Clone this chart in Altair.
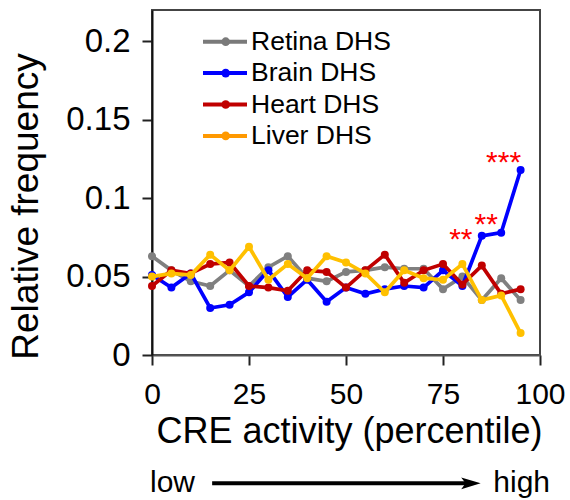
import altair as alt
import pandas as pd

# Percentile bins (bin start, step 5)
pct = list(range(0, 100, 5))

series_names = ["Retina DHS", "Brain DHS", "Heart DHS", "Liver DHS"]
line_colors = ["#808080", "#0000FF", "#C00000", "#FFC000"]
legend_colors = ["#7A7A7A", "#0000FF", "#C00000", "#FF9900"]

retina = [0.063, 0.054, 0.047, 0.044, 0.054, 0.044, 0.056, 0.063, 0.049, 0.047,
          0.053, 0.054, 0.056, 0.055, 0.055, 0.042, 0.050, 0.035, 0.049, 0.035]
brain = [0.051, 0.043, 0.052, 0.030, 0.032, 0.040, 0.054, 0.037, 0.048, 0.034,
         0.043, 0.039, 0.042, 0.044, 0.043, 0.054, 0.044, 0.076, 0.078, 0.118]
heart = [0.044, 0.054, 0.052, 0.058, 0.059, 0.044, 0.043, 0.041, 0.054, 0.053,
         0.043, 0.054, 0.064, 0.046, 0.054, 0.058, 0.045, 0.057, 0.039, 0.042]
liver = [0.050, 0.052, 0.051, 0.064, 0.054, 0.069, 0.048, 0.058, 0.049, 0.063,
         0.059, 0.052, 0.040, 0.054, 0.049, 0.048, 0.058, 0.035, 0.038, 0.014]

# Significance marks for the top Brain DHS bins
star_labels = ["**", "**", "***"]
star_pct = [85, 90, 95]
star_dx = [-21, -15, -17]
star_dy = [13, 1, 2]

x_ticks = [0, 25, 50, 75, 100]
y_ticks = [0, 0.05, 0.1, 0.15, 0.2]

W, H = 388, 345
FONT = "Liberation Sans"

x_scale = alt.Scale(domain=[0, 100], nice=False, zero=False)
y_scale = alt.Scale(domain=[0, 0.22], nice=False)

x_axis = alt.Axis(values=x_ticks, format="d", title="CRE activity (percentile)",
                  titleX=197, titleY=87, titleAlign="center",
                  titleBaseline="alphabetic", labelPadding=14, labelFlush=False,
                  labelFontSize=30, titleFontSize=36, domainColor="#555555")
y_axis = alt.Axis(values=y_ticks, format="~g", title="Relative frequency",
                  titleX=-115, titleY=196, titleAngle=270, titleAlign="center",
                  titleBaseline="alphabetic", labelPadding=12, labelFlush=False,
                  labelFontSize=33, titleFontSize=37, domainColor="#111111")

series_values = [retina, brain, heart, liver]
long = pd.DataFrame({
    "pct": pct * len(series_names),
    "freq": [v for vals in series_values for v in vals],
    "series": [n for n in series_names for _ in pct],
})

color = alt.Color("series:N", scale=alt.Scale(domain=series_names, range=line_colors),
                  legend=None)

layers = []
for name in series_names:
    sub = alt.Chart(long).transform_filter(alt.datum.series == name)
    enc = dict(x=alt.X("pct:Q", scale=x_scale, axis=x_axis),
               y=alt.Y("freq:Q", scale=y_scale, axis=y_axis),
               color=color)
    layers.append(sub.mark_line(strokeWidth=3.7).encode(**enc))
    layers.append(sub.mark_circle(size=64, opacity=1).encode(**enc))

# Asterisks anchored to the Brain DHS points they annotate
for lab, p, dx, dy in zip(star_labels, star_pct, star_dx, star_dy):
    sdf = pd.DataFrame({"pct": [p], "freq": [brain[pct.index(p)]], "label": [lab]})
    layers.append(
        alt.Chart(sdf).mark_text(color="#FF0000", fontSize=30, font=FONT,
                                 align="center", baseline="alphabetic", dx=dx, dy=dy)
        .encode(x=alt.X("pct:Q", scale=x_scale), y=alt.Y("freq:Q", scale=y_scale),
                text="label:N")
    )

# Manual legend (line + dot + label)
leg_y0, leg_gap = 31.7, 31.4
for k, (name, col) in enumerate(zip(series_names, legend_colors)):
    ldf = pd.DataFrame({"name": [name]})
    yk = alt.value(leg_y0 + k * leg_gap)
    base = alt.Chart(ldf)
    layers.append(base.mark_rule(color=col, strokeWidth=4)
                  .encode(x=alt.value(51), x2=alt.value(95), y=yk))
    layers.append(base.mark_circle(color=col, size=75, opacity=1)
                  .encode(x=alt.value(73.7), y=yk))
    layers.append(base.mark_text(fontSize=26.5, font=FONT, align="left",
                                 baseline="middle", color="black")
                  .encode(x=alt.value(99), y=yk, text="name:N"))

# "low -> high" arrow under the x axis
arrow_from, arrow_to, arrow_head = 15.5, 82.5, 82.2
arrow_y = alt.value(473.3)
adf = pd.DataFrame({"a": [arrow_from], "b": [arrow_to]})
layers.append(alt.Chart(adf).mark_rule(color="black", strokeWidth=4)
              .encode(x=alt.X("a:Q", scale=x_scale), x2="b:Q", y=arrow_y))
hdf = pd.DataFrame({"a": [arrow_head]})
layers.append(alt.Chart(hdf).mark_point(shape="M-1,-0.6L1,0L-1,0.6L-0.55,0Z",
                                         filled=True, color="black", size=380,
                                         opacity=1)
              .encode(x=alt.X("a:Q", scale=x_scale), y=arrow_y))
ends = pd.DataFrame({"pct": [0, 100], "label": ["low", "high"]})
layers.append(alt.Chart(ends).transform_filter(alt.datum.label == "low")
              .mark_text(fontSize=30, font=FONT, align="left", baseline="alphabetic",
                         dx=-2, color="black")
              .encode(x=alt.X("pct:Q", scale=x_scale), y=alt.value(481.7), text="label:N"))
layers.append(alt.Chart(ends).transform_filter(alt.datum.label == "high")
              .mark_text(fontSize=30, font=FONT, align="right", baseline="alphabetic",
                         dx=10, color="black")
              .encode(x=alt.X("pct:Q", scale=x_scale), y=alt.value(481.7), text="label:N"))

chart = (
    alt.layer(*layers)
    .properties(width=W, height=H,
                autosize=alt.AutoSizeParams(type="none"),
                padding={"left": 152, "top": 10, "right": 30, "bottom": 145},
                background="white")
    .configure_view(stroke="#444444", strokeWidth=2)
    .configure_axis(labelFont=FONT, titleFont=FONT,
                    titleFontWeight="normal", labelColor="black",
                    titleColor="black", tickSize=10, tickWidth=2, tickColor="#222222",
                    domainWidth=2, grid=False)
)

chart.save("out.html", embed_options={"renderer": "svg", "actions": False})
